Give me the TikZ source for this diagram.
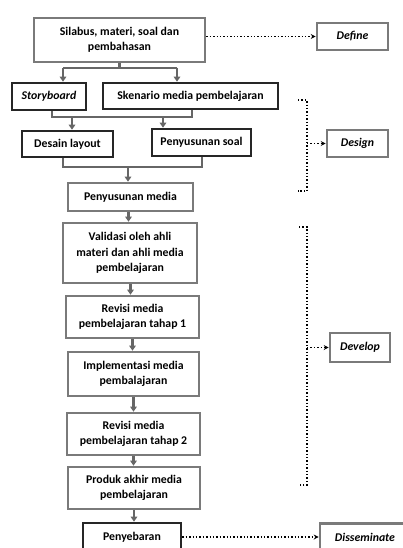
\documentclass[tikz,border=0pt]{standalone}
\usepackage{fontspec}
\setmainfont{Carlito}
\usetikzlibrary{arrows.meta}
\definecolor{boxgray}{HTML}{7A7A7A}
\definecolor{linegray}{HTML}{666666}
\tikzset{
  x=1pt, y=-1pt,
  box/.style={draw=boxgray, line width=2.6pt, fill=white, align=center,
    font=\fontsize{11.8}{15.5}\selectfont\bfseries, inner sep=0pt},
  darkbox/.style={box, draw=black!85, line width=2.6pt},
  conn/.style={draw=linegray, line width=2.2pt},
  arr/.style={conn, -{Triangle[length=5pt,width=6.5pt]}},
  dots/.style={draw=black, dotted, line width=1.4pt},
  dotarr/.style={dots, -{Stealth[length=5pt,width=5pt]}},
}
\begin{document}
\begin{tikzpicture}
\useasboundingbox (0,0) rectangle (403,548);
\clip (0,0) rectangle (403,548);
\fill[white] (0,0) rectangle (403,548);

% boxes
\node[box, minimum width=171pt, minimum height=44pt] (silabus) at (119.5,40) {Silabus, materi, soal dan\\pembahasan};
\node[box, minimum width=71pt, minimum height=27pt] (define) at (352.5,36.5) {\itshape Define};
\node[darkbox, minimum width=74pt, minimum height=27pt] (story) at (49,96.5) {\itshape Storyboard};
\node[darkbox, minimum width=175pt, minimum height=26pt] (skenario) at (190.5,96) {Skenario media pembelajaran};
\node[darkbox, minimum width=91pt, minimum height=26pt] (desain) at (67.5,144) {Desain layout};
\node[darkbox, minimum width=99pt, minimum height=27pt] (soal) at (201.5,142.5) {Penyusunan soal};
\node[box, minimum width=61pt, minimum height=27pt] (design) at (357.5,143.5) {\itshape Design};
\node[box, minimum width=125pt, minimum height=28pt] (media) at (130.5,197) {Penyusunan media};
\node[box, minimum width=134pt, minimum height=60pt] (validasi) at (130,253) {Validasi oleh ahli\\materi dan ahli media\\pembelajaran};
\node[box, minimum width=133pt, minimum height=42pt] (revisi1) at (132.5,317) {Revisi media\\pembelajaran tahap 1};
\node[box, minimum width=131pt, minimum height=44pt] (impl) at (133.5,374) {Implementasi media\\pembalajaran};
\node[box, minimum width=133pt, minimum height=42pt] (revisi2) at (133.5,434) {Revisi media\\pembelajaran tahap 2};
\node[box, minimum width=132pt, minimum height=42pt] (produk) at (134,488) {Produk akhir media\\pembelajaran};
\node[darkbox, minimum width=98pt, minimum height=28pt] (sebar) at (132,537) {Penyebaran};
\node[box, minimum width=60pt, minimum height=29pt] (develop) at (360,347.5) {\itshape Develop};
\node[box, minimum width=90pt, minimum height=27pt] (dissem) at (365,537) {\itshape Disseminate};

% split from silabus
\coordinate (s1) at (silabus.south |- 0,68);
\draw[conn] (silabus.south) -- (s1);
\draw[conn] ([xshift=14pt]story.north |- s1) -- ([xshift=-13.5pt]skenario.north |- s1);
\draw[arr] ([xshift=14pt]story.north |- s1) -- ([xshift=14pt]story.north);
\draw[arr] ([xshift=-13.5pt]skenario.north |- s1) -- ([xshift=-13.5pt]skenario.north);

% merge 1
\coordinate (m1) at (0,117);
\draw[conn] ([xshift=3pt]story.south) -- ([xshift=3pt]story.south |- m1) -- ([xshift=1.5pt]skenario.south |- m1) -- ([xshift=1.5pt]skenario.south);
\draw[arr] ([xshift=4.5pt]desain.north |- m1) -- ([xshift=4.5pt]desain.north);
\draw[arr] ([xshift=-38.5pt]soal.north |- m1) -- ([xshift=-38.5pt]soal.north);

% merge 2
\coordinate (m2) at (0,167);
\draw[conn] ([xshift=-4.5pt]desain.south) -- ([xshift=-4.5pt]desain.south |- m2) -- ([xshift=0.5pt]soal.south |- m2) -- ([xshift=0.5pt]soal.south);
\draw[arr] ([xshift=-2.5pt]media.north |- m2) -- ([xshift=-2.5pt]media.north);

% chain
\draw[arr] ([xshift=-2pt]media.south) -- ([xshift=-2pt]media.south |- validasi.north);
\draw[arr] ([xshift=0.5pt]validasi.south) -- ([xshift=0.5pt]validasi.south |- revisi1.north);
\draw[arr] (revisi1.south) -- (revisi1.south |- impl.north);
\draw[arr] (impl.south) -- (impl.south |- revisi2.north);
\draw[arr] (revisi2.south) -- (revisi2.south |- produk.north);
\draw[arr] (produk.south) -- (produk.south |- sebar.north);

% dotted arrows
\draw[dotarr] (define.west -| silabus.east) -- (define.west);
\draw[dotarr] (sebar.east) -- (dissem.west);

% design bracket
\coordinate (d1) at (298,100);
\coordinate (d2) at (307,100);
\coordinate (d3) at (307,191);
\coordinate (d4) at (298,191);
\coordinate (dm) at (307,143.5);
\draw[dots] (d1) -- (d2) -- (d3) -- (d4);
\draw[dotarr] (dm) -- (design.west);

% develop bracket
\coordinate (v1) at (299,227);
\coordinate (v2) at (307,227);
\coordinate (v3) at (307,485);
\coordinate (v4) at (299,485);
\coordinate (vm) at (307,347.5);
\draw[dots] (v1) -- (v2) -- (v3) -- (v4);
\draw[dotarr] (vm) -- (develop.west);
\end{tikzpicture}
\end{document}
